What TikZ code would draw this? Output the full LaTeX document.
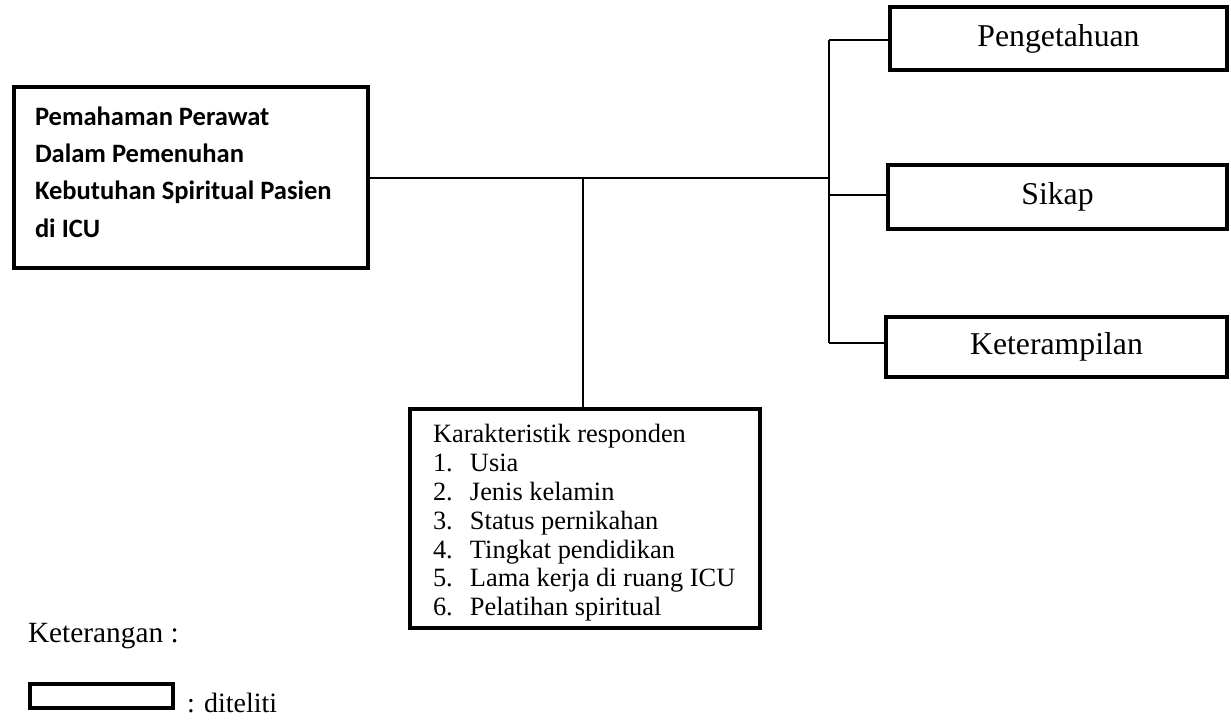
\documentclass[tikz,border=0pt]{standalone}
\usepackage{fontspec}
\setmainfont{Liberation Serif}
\newfontfamily\carlitofont{Carlito}
\newcommand{\itm}[1]{\makebox[27.75pt][l]{#1}}
\tikzset{
  thickbox/.style={draw=black, line width=3.5pt, rectangle, inner sep=0pt},
  thinline/.style={draw=black, line width=1.1pt},
  plaintext/.style={inner sep=0pt, outer sep=0pt},
}
\begin{document}
\begin{tikzpicture}[x=0.75pt, y=-0.75pt]
\useasboundingbox (0,0) rectangle (1231,719);

% boxes
\node[thickbox, minimum width=265.5pt, minimum height=135.75pt] (left) at (191,177.5) {};
\node[plaintext, anchor=west, align=left, font=\carlitofont\bfseries\fontsize{19.9}{28}\selectfont] (lefttext) at (35,172)
  {Pemahaman Perawat\\Dalam Pemenuhan\\Kebutuhan Spiritual Pasien\\di ICU};

\node[thickbox, minimum width=252.75pt, minimum height=47.25pt, font=\fontsize{23.8}{28}\selectfont] (peng) at (1058.5,38.5) {Pengetahuan};
\node[thickbox, minimum width=254.25pt, minimum height=48pt, font=\fontsize{23.8}{28}\selectfont] (sikap) at (1057.5,197) {Sikap};
\node[thickbox, minimum width=255.75pt, minimum height=45pt, font=\fontsize{23.8}{28}\selectfont] (ket) at (1056.5,347) {Keterampilan};

\node[thickbox, minimum width=262.5pt, minimum height=164.25pt] (bottom) at (585,518.5) {};
\node[plaintext, anchor=west, align=left, font=\fontsize{19.8}{21.6}\selectfont] (bottomtext) at (433,523)
  {Karakteristik responden\\
   \itm{1.}Usia\\
   \itm{2.}Jenis kelamin\\
   \itm{3.}Status pernikahan\\
   \itm{4.}Tingkat pendidikan\\
   \itm{5.}Lama kerja di ruang ICU\\
   \itm{6.}Pelatihan spiritual};

% connectors
\coordinate (jr) at (829,178);
\coordinate (jb) at (583,178);
\coordinate (bt) at (829,40);
\coordinate (bs) at (829,195);
\coordinate (bb) at (829,343);
\draw[thinline] (left.east |- jr) -- (jr);
\draw[thinline] (jb) -- (jb |- bottom.north);
\draw[thinline] (bt) -- (bb);
\draw[thinline] (bt) -- (bt -| peng.west);
\draw[thinline] (bs) -- (bs -| sikap.west);
\draw[thinline] (bb) -- (bb -| ket.west);

% legend
\node[plaintext, anchor=base west, font=\fontsize{22}{25}\selectfont] (ketlabel) at (28,642) {Keterangan :};
\node[draw=black, line width=2.7pt, inner sep=0pt, minimum width=107.25pt, minimum height=18pt] (legbox) at (101.5,696) {};
\node[plaintext, anchor=base west, font=\fontsize{21}{24}\selectfont] (legtext) at (187,712) {: diteliti};
\end{tikzpicture}
\end{document}
